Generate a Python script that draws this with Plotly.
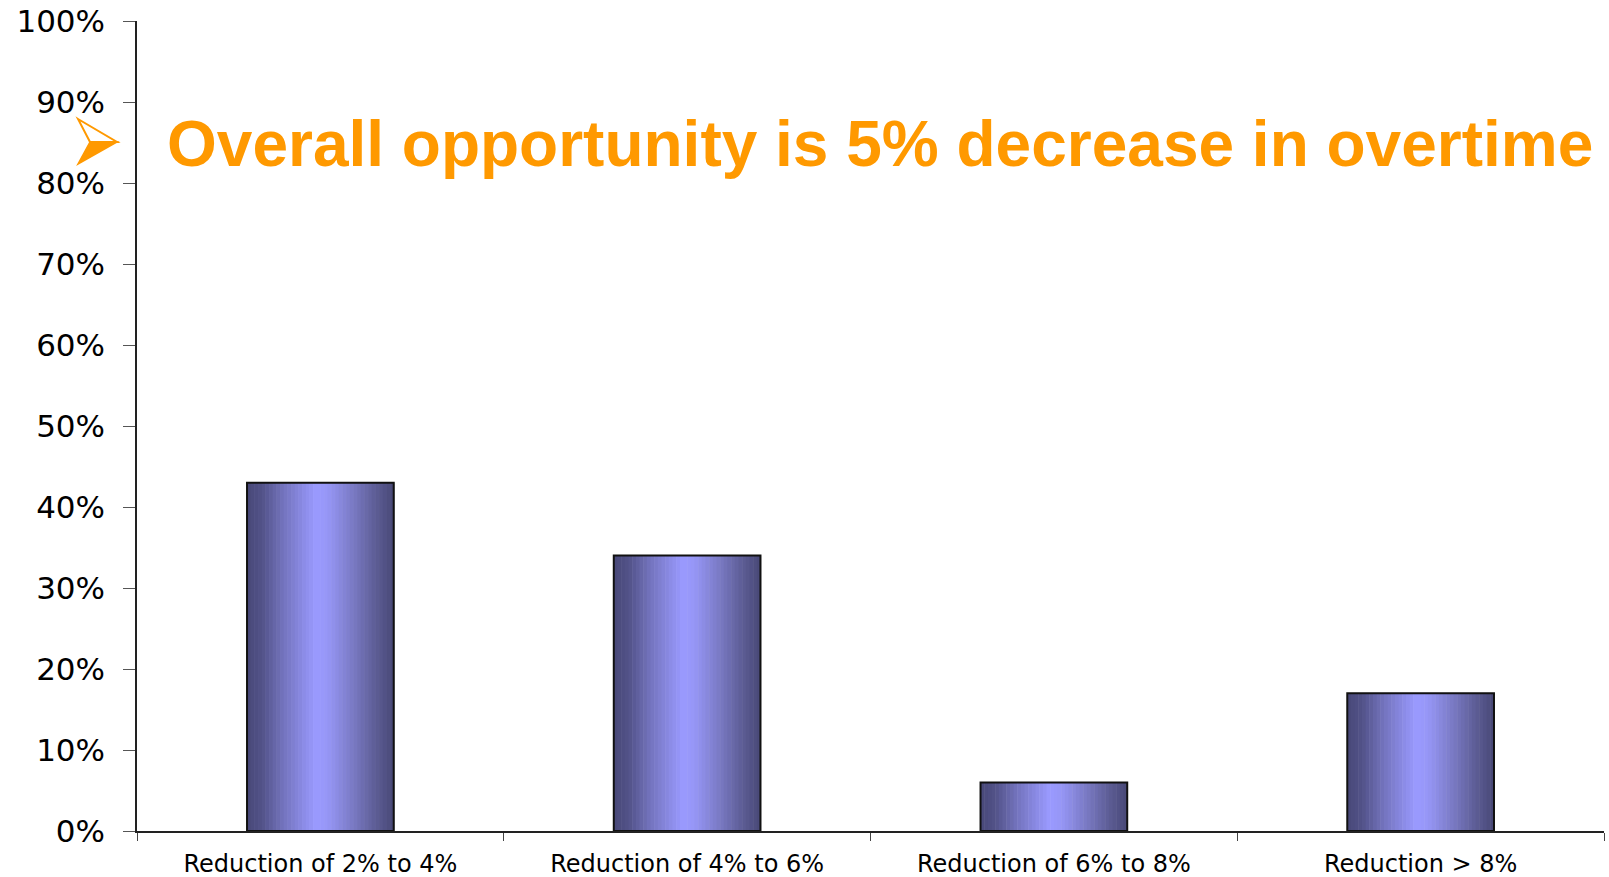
import plotly.graph_objects as go
import numpy as np

# Share of responses per overtime-reduction band
categories = ["Reduction of 2% to 4%", "Reduction of 4% to 6%",
              "Reduction of 6% to 8%", "Reduction > 8%"]
shares = [0.43, 0.34, 0.06, 0.17]

headline = "Overall opportunity is 5% decrease in overtime"
ORANGE = "#FF9900"

# Horizontal shading across each bar: dark edges, light just left of centre
stops = [0.0, 0.10, 0.25, 0.47, 0.55, 0.72, 0.88, 1.0]
stop_rgb = np.array([
    [0x48, 0x48, 0x78],
    [0x52, 0x52, 0x88],
    [0x74, 0x74, 0xBE],
    [0x9A, 0x9A, 0xFF],
    [0x96, 0x96, 0xF6],
    [0x7A, 0x7A, 0xC4],
    [0x5C, 0x5C, 0x94],
    [0x48, 0x48, 0x76],
])

BAR_W = 0.4
N_STRIPES = 40

fig = go.Figure()

for i in range(N_STRIPES):
    f = (i + 0.5) / N_STRIPES
    rgb = [int(round(np.interp(f, stops, stop_rgb[:, c]))) for c in range(3)]
    w = BAR_W / N_STRIPES
    fig.add_trace(go.Bar(
        x=categories, y=shares,
        width=w * 1.15, offset=-BAR_W / 2 + i * w,
        marker=dict(color="rgb(%d,%d,%d)" % tuple(rgb), line=dict(width=0)),
        hoverinfo="skip", showlegend=False,
    ))

# Outline of each bar
fig.add_trace(go.Bar(
    x=categories, y=shares, width=BAR_W, offset=-BAR_W / 2,
    marker=dict(color="rgba(0,0,0,0)", line=dict(color="#111111", width=2)),
    hovertemplate="%{x}: %{y:.0%}<extra></extra>", showlegend=False,
))

# Arrow bullet ahead of the headline (upper half outlined, lower half filled)
L, W, T, H = 137, 1467, 21, 810
def px(xp, yp):
    return (xp - L) / W, (T + H - yp) / H

tip = px(117, 142)
up = px(78, 119)
lo = px(78, 164)
notch = px(90, 142)

fig.add_shape(type="path", xref="paper", yref="paper",
              path="M %f,%f L %f,%f L %f,%f Z" % (up + tip + notch),
              line=dict(color=ORANGE, width=2), fillcolor="white")
fig.add_shape(type="path", xref="paper", yref="paper",
              path="M %f,%f L %f,%f L %f,%f Z" % (notch + tip + lo),
              line=dict(color=ORANGE, width=1.5), fillcolor=ORANGE)

fig.add_annotation(
    text=headline, xref="paper", yref="paper",
    x=px(880, 0)[0], y=px(0, 144)[1], xanchor="center", yanchor="middle",
    showarrow=False,
    font=dict(family="Liberation Sans, Arial, sans-serif", size=64,
              color=ORANGE, weight="bold"),
)

fig.update_layout(
    width=1609, height=877,
    margin=dict(l=137, r=5, t=21, b=46),
    paper_bgcolor="white", plot_bgcolor="white",
    barmode="overlay",
    font=dict(family="DejaVu Sans, sans-serif", color="#000000"),
)

fig.update_xaxes(
    type="category", range=[-0.5, 3.5], automargin=False,
    showline=True, linecolor="#222222", linewidth=1.5,
    ticks="outside", tickson="boundaries", ticklen=8, tickcolor="#444444",
    tickwidth=1.2, showgrid=False, zeroline=False,
    tickfont=dict(size=24, family="DejaVu Sans, sans-serif"),
    ticklabelstandoff=10,
)

fig.update_yaxes(
    range=[0, 1], dtick=0.1, tickformat=".0%", automargin=False,
    showline=True, linecolor="#222222", linewidth=1.5,
    ticks="outside", ticklen=12, tickcolor="#555555", tickwidth=1.2,
    showgrid=False, zeroline=False,
    tickfont=dict(size=31, family="DejaVu Sans, sans-serif"),
    ticklabelstandoff=12,
)

fig.write_html("out.html")
